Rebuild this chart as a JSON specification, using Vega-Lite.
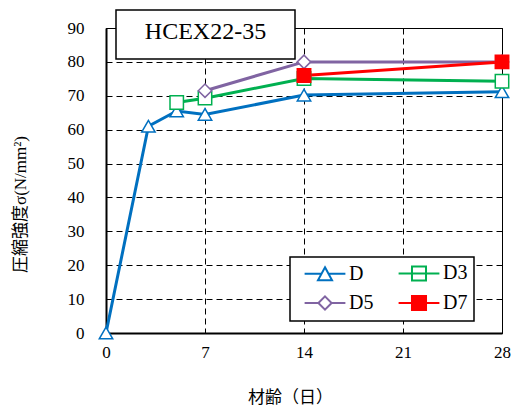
{
  "$schema": "https://vega.github.io/schema/vega-lite/v6.json",
  "width": 396,
  "height": 305,
  "autosize": {"type": "none"},
  "padding": {"left": 106, "top": 28, "right": 10, "bottom": 76},
  "background": "white",
  "config": {
    "view": {"stroke": "black", "strokeWidth": 1},
    "axis": {
      "domainColor": "black",
      "domainWidth": 2,
      "grid": true,
      "gridColor": "black",
      "gridDash": [6, 4],
      "gridWidth": 1,
      "gridOpacity": 1,
      "ticks": false,
      "labelOverlap": false,
      "labelFont": "Liberation Serif",
      "labelFontSize": 17,
      "labelColor": "black",
      "titleFont": "Liberation Serif, Noto Sans CJK JP",
      "titleFontSize": 17,
      "titleFontWeight": "normal",
      "titleColor": "black"
    },
    "legend": {"strokeWidth": 1.5}
  },
  "data": {
    "values": [
      {"series": "D", "day": 0, "value": 0},
      {"series": "D", "day": 3, "value": 61},
      {"series": "D", "day": 5, "value": 65.5},
      {"series": "D", "day": 7, "value": 64.5},
      {"series": "D", "day": 14, "value": 70.2},
      {"series": "D", "day": 28, "value": 71.2},
      {"series": "D3", "day": 5, "value": 68},
      {"series": "D3", "day": 7, "value": 69.3},
      {"series": "D3", "day": 14, "value": 75.1},
      {"series": "D3", "day": 28, "value": 74.3},
      {"series": "D5", "day": 7, "value": 71.5},
      {"series": "D5", "day": 14, "value": 80},
      {"series": "D5", "day": 28, "value": 80},
      {"series": "D7", "day": 14, "value": 76},
      {"series": "D7", "day": 28, "value": 80}
    ]
  },
  "resolve": {"scale": {"stroke": "independent", "fill": "independent", "shape": "independent"}},
  "layer": [
    {
      "mark": {"type": "line", "strokeWidth": 3},
      "encoding": {
        "x": {
          "field": "day", "type": "quantitative",
          "scale": {"domain": [0, 28]},
          "axis": {
            "values": [0, 7, 14, 21, 28],
            "labelFlush": false,
            "labelPadding": 11,
            "title": "材齢（日）",
            "titleX": 184,
            "titleY": 64,
            "titleBaseline": "middle"
          }
        },
        "y": {
          "field": "value", "type": "quantitative",
          "scale": {"domain": [0, 90]},
          "axis": {
            "values": [0, 10, 20, 30, 40, 50, 60, 70, 80, 90],
            "labelPadding": 22,
            "title": "圧縮強度σ(N/mm²)",
            "titleX": -86,
            "titleY": 176,
            "titleAngle": -90,
            "titleAlign": "center",
            "titleBaseline": "middle"
          }
        },
        "stroke": {
          "field": "series", "type": "nominal",
          "scale": {"domain": ["D", "D3", "D5", "D7"], "range": ["#0070C0", "#00B050", "#8064A2", "#FF0000"]},
          "legend": null
        },
        "detail": {"field": "series"}
      }
    },
    {
      "mark": {"type": "point", "strokeWidth": 1.5, "opacity": 1},
      "encoding": {
        "x": {"field": "day", "type": "quantitative", "axis": {"values": [0, 7, 14, 21, 28], "labelFlush": false, "labelPadding": 11, "title": "材齢（日）", "titleX": 184, "titleY": 64, "titleBaseline": "middle"}},
        "y": {"field": "value", "type": "quantitative", "axis": {"values": [0, 10, 20, 30, 40, 50, 60, 70, 80, 90], "labelPadding": 22, "title": "圧縮強度σ(N/mm²)", "titleX": -86, "titleY": 176, "titleAngle": -90, "titleAlign": "center", "titleBaseline": "middle"}},
        "stroke": {
          "field": "series", "type": "nominal",
          "scale": {"domain": ["D", "D3", "D5", "D7"], "range": ["#0070C0", "#00B050", "#8064A2", "#FF0000"]},
          "legend": null
        },
        "fill": {
          "field": "series", "type": "nominal",
          "scale": {"domain": ["D", "D3", "D5", "D7"], "range": ["white", "white", "white", "#FF0000"]},
          "legend": null
        },
        "shape": {
          "field": "series", "type": "nominal",
          "scale": {"domain": ["D", "D3", "D5", "D7"], "range": ["triangle-up", "square", "diamond", "square"]},
          "legend": null
        },
        "size": {"value": 180}
      }
    },
    {
      "mark": {"type": "point", "opacity": 0, "strokeWidth": 2},
      "encoding": {
        "stroke": {
          "field": "series", "type": "nominal",
          "scale": {"domain": ["D", "D3", "D5", "D7"], "range": ["#0070C0", "#00B050", "#8064A2", "#FF0000"]},
          "legend": {
            "title": null, "orient": "none", "legendX": 184, "legendY": 229, "columns": 2, "direction": "horizontal",
            "padding": 6, "rowPadding": 6, "columnPadding": 16,
            "symbolSize": 144, "symbolStrokeWidth": 2, "symbolOpacity": 1, "symbolOffset": 19,
            "symbolFillColor": "white", "symbolStrokeColor": "black",
            "labelOffset": 14, "labelFont": "Liberation Serif", "labelFontSize": 20, "labelColor": "black",
            "strokeColor": "black", "fillColor": "white"
          }
        },
        "fill": {
          "field": "series", "type": "nominal",
          "scale": {"domain": ["D", "D3", "D5", "D7"], "range": ["white", "white", "white", "#FF0000"]},
          "legend": {
            "title": null, "orient": "none", "legendX": 184, "legendY": 229, "columns": 2, "direction": "horizontal",
            "padding": 6, "rowPadding": 6, "columnPadding": 16,
            "symbolSize": 144, "symbolStrokeWidth": 2, "symbolOpacity": 1, "symbolOffset": 19,
            "symbolFillColor": "white", "symbolStrokeColor": "black",
            "labelOffset": 14, "labelFont": "Liberation Serif", "labelFontSize": 20, "labelColor": "black",
            "strokeColor": "black", "fillColor": "white"
          }
        },
        "shape": {
          "field": "series", "type": "nominal",
          "scale": {
            "domain": ["D", "D3", "D5", "D7"],
            "range": [
              "M-3.4,0H-0.6M0.6,0H3.4M0,-1.08L1.17,1.08L-1.17,1.08Z",
              "M-3.4,0H3.4M-1.17,-1.17H1.17V1.17H-1.17Z",
              "M-3.4,0H-1.1M1.1,0H3.4M0,-1.1L1.1,0L0,1.1L-1.1,0Z",
              "M-3.4,0H3.4M-1.17,-1.17H1.17V1.17H-1.17Z"
            ]
          },
          "legend": {
            "title": null, "orient": "none", "legendX": 184, "legendY": 229, "columns": 2, "direction": "horizontal",
            "padding": 6, "rowPadding": 6, "columnPadding": 16,
            "symbolSize": 144, "symbolStrokeWidth": 2, "symbolOpacity": 1, "symbolOffset": 19,
            "symbolFillColor": "white", "symbolStrokeColor": "black",
            "labelOffset": 14, "labelFont": "Liberation Serif", "labelFontSize": 20, "labelColor": "black",
            "strokeColor": "black", "fillColor": "white"
          }
        }
      }
    },
    {
      "data": {"values": [{"panel": "HCEX22-35"}]},
      "mark": {"type": "point", "opacity": 0},
      "encoding": {
        "size": {
          "field": "panel", "type": "nominal",
          "scale": {"range": [24964, 24964]},
          "legend": {
            "title": "HCEX22-35", "orient": "none", "legendX": 10, "legendY": -18,
            "titleFont": "Liberation Serif", "titleFontSize": 24, "titleFontWeight": "normal", "titleColor": "black",
            "titleAnchor": "middle", "titleAlign": "center", "titlePadding": 0,
            "padding": 9.5, "symbolOpacity": 0, "clipHeight": 1,
            "labelOffset": 0, "labelExpr": "''",
            "strokeColor": "black", "fillColor": "white"
          }
        }
      }
    }
  ]
}
